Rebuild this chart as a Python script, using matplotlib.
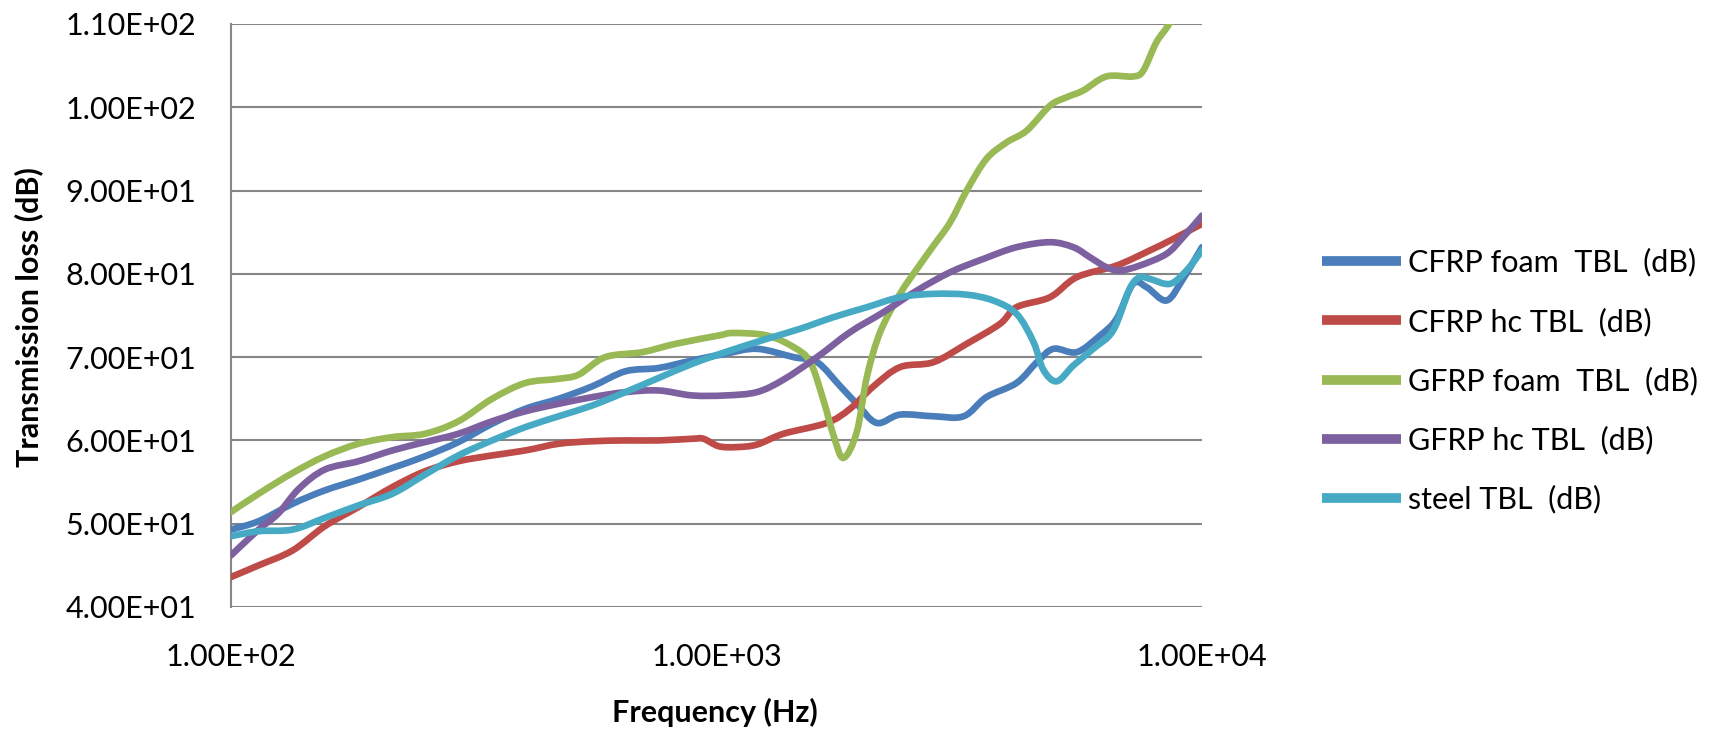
import matplotlib
matplotlib.use("Agg")
import numpy as np
import matplotlib.pyplot as plt
from matplotlib.lines import Line2D
from matplotlib.path import Path
from matplotlib.patches import PathPatch
from matplotlib.ticker import FixedLocator, FuncFormatter, NullLocator

# values (frequency in Hz, transmission loss in dB)
cfrpFoamFreq = [100, 114, 134, 156, 183, 215, 251, 294, 345, 404, 473, 555, 649, 760, 891, 1042,
                1211, 1442, 1611, 1799, 1945, 2138, 2388, 2800, 3228, 3597, 4150, 4571, 4943,
                5521, 6166, 6668, 7211, 7691, 8450, 9141, 10000]
cfrpFoamTL = [49.3, 50.3, 52.4, 54.0, 55.3, 56.7, 58.1, 59.8, 62.0, 63.8, 65.0, 66.5, 68.3, 68.7, 69.6, 70.4,
              71.0, 70.0, 69.4, 66.5, 64.4, 62.1, 63.1, 62.9, 62.9, 65.2, 66.9, 69.4, 71.0,
              70.6, 72.6, 74.6, 78.8, 78.4, 76.8, 79.4, 83.2]

cfrpHcFreq = [100, 114, 134, 156, 183, 215, 251, 294, 345, 404, 473, 555, 649, 760, 891, 940,
              1011, 1100, 1211, 1374, 1687, 1884, 2106, 2388, 2800, 3276, 3837, 4150, 4864,
              5521, 6668, 7803, 8730, 10000]
cfrpHcTL = [43.6, 45.0, 46.8, 49.7, 52.0, 54.4, 56.3, 57.5, 58.2, 58.8, 59.6, 59.9, 60.0, 60.0, 60.2, 60.2,
            59.3, 59.2, 59.5, 60.8, 62.1, 63.8, 66.5, 68.8, 69.4, 71.6, 74.0, 76.0, 77.2,
            79.6, 81.0, 82.8, 84.2, 86.0]

gfrpFoamFreq = [100, 114, 134, 156, 183, 215, 251, 294, 345, 404, 473, 520, 590, 703, 824, 1011,
                1084, 1270, 1442, 1560, 1661, 1742, 1825, 1945, 2042, 2173, 2388, 2588, 2800,
                3030, 3276, 3597, 3963, 4355, 4864, 5260, 5687, 6353, 7211, 7568, 8054, 8590,
                9141]
gfrpFoamTL = [51.4, 53.6, 56.1, 58.1, 59.6, 60.4, 60.8, 62.3, 65.0, 66.9, 67.4, 67.9, 70.0, 70.6, 71.6, 72.6,
              72.9, 72.6, 71.2, 69.4, 64.8, 60.6, 57.9, 61.0, 67.7, 73.0, 77.6, 80.6, 83.4,
              86.2, 90.0, 93.8, 95.8, 97.2, 100.2, 101.2, 102.0, 103.7, 103.7, 104.4, 107.8, 110.2,
              114.0]

gfrpHcFreq = [100, 114, 125, 138, 156, 183, 215, 251, 294, 345, 404, 473, 555, 649, 760, 891, 1042,
              1211, 1374, 1611, 1884, 2208, 2588, 3030, 3548, 4150, 4864, 5433, 5875, 6353,
              6776, 7447, 8450, 9141, 10000]
gfrpHcTL = [46.2, 49.3, 51.2, 54.2, 56.5, 57.5, 58.8, 59.8, 60.8, 62.3, 63.5, 64.4, 65.2, 65.8, 66.0, 65.4, 65.4,
            65.8, 67.3, 70.0, 73.0, 75.4, 78.0, 80.2, 81.8, 83.2, 83.8, 83.2, 82.0, 80.8,
            80.4, 81.0, 82.4, 84.4, 87.0]

steelFreq = [100, 114, 134, 156, 183, 215, 251, 294, 345, 404, 473, 555, 649, 760, 891, 1042,
             1270, 1486, 1742, 2042, 2388, 2800, 3276, 3715, 4150, 4498, 4710, 5020, 5433,
             5970, 6561, 7096, 7447, 7803, 8590, 9290, 10000]
steelTL = [48.5, 49.1, 49.3, 50.7, 52.2, 53.6, 55.9, 58.2, 60.0, 61.6, 62.9, 64.2, 65.8, 67.5, 69.2, 70.6,
           72.2, 73.4, 74.8, 76.0, 77.2, 77.6, 77.5, 76.8, 75.2, 71.8, 68.5, 67.1, 69.0,
           71.0, 73.2, 78.2, 79.6, 79.4, 78.8, 80.4, 82.8]

seriesNames = ["CFRP foam  TBL  (dB)", "CFRP hc TBL  (dB)", "GFRP foam  TBL  (dB)",
               "GFRP hc TBL  (dB)", "steel TBL  (dB)"]
seriesColors = ["#4A7EBB", "#BE4B48", "#98B954", "#7D60A0", "#46AAC5"]

yTicks = [40, 50, 60, 70, 80, 90, 100, 110]
xTicks = [100, 1000, 10000]

FONT = "Lato"
SIZE = 22
GRID = "#868686"
LINE_WIDTH = 4.8


def smoothPath(freq, values):
    """Excel-like smoothed line: Catmull-Rom through the points, built in log-frequency space."""
    x = np.log10(freq)
    y = np.asarray(values, dtype=float)
    px = np.concatenate([[x[0]], x, [x[-1]]])
    py = np.concatenate([[y[0]], y, [y[-1]]])
    verts = [(x[0], y[0])]
    codes = [Path.MOVETO]
    for i in range(1, len(px) - 2):
        c1 = (px[i] + (px[i + 1] - px[i - 1]) / 6, py[i] + (py[i + 1] - py[i - 1]) / 6)
        c2 = (px[i + 1] - (px[i + 2] - px[i]) / 6, py[i + 1] - (py[i + 2] - py[i]) / 6)
        verts += [c1, c2, (px[i + 1], py[i + 1])]
        codes += [Path.CURVE4] * 3
    verts = [(10 ** vx, vy) for vx, vy in verts]
    return Path(verts, codes)


fig = plt.figure(figsize=(17.23, 7.29), dpi=100)
ax = fig.add_axes([231 / 1723, 1 - 607 / 729, (1202 - 231) / 1723, (607 - 24) / 729])

allSeries = [(cfrpFoamFreq, cfrpFoamTL), (cfrpHcFreq, cfrpHcTL), (gfrpFoamFreq, gfrpFoamTL),
             (gfrpHcFreq, gfrpHcTL), (steelFreq, steelTL)]
handles = []
for (freq, tl), name, color in zip(allSeries, seriesNames, seriesColors):
    patch = PathPatch(smoothPath(freq, tl), facecolor="none", edgecolor=color, lw=LINE_WIDTH,
                      joinstyle="round", capstyle="round", zorder=3)
    ax.add_patch(patch)
    handles.append(Line2D([], [], color=color, lw=7, solid_capstyle="butt", label=name))

ax.set_xscale("log")
ax.set_xlim(100, 10000)
ax.set_ylim(40, 110)
ax.xaxis.set_major_locator(FixedLocator(xTicks))
ax.xaxis.set_minor_locator(NullLocator())
ax.yaxis.set_major_locator(FixedLocator(yTicks))
sciFormat = FuncFormatter(lambda v, pos: "%.2E" % v)
ax.xaxis.set_major_formatter(sciFormat)
ax.yaxis.set_major_formatter(sciFormat)

ax.grid(axis="y", color=GRID, lw=1.5, zorder=0)
ax.set_axisbelow(True)
for side in ["top", "right", "bottom"]:
    ax.spines[side].set_visible(False)
ax.spines["left"].set_color(GRID)
ax.spines["left"].set_linewidth(1.5)
ax.tick_params(axis="both", length=0, labelsize=SIZE, labelcolor="black")
ax.tick_params(axis="y", pad=25)
ax.tick_params(axis="x", pad=26)
for label in ax.get_xticklabels() + ax.get_yticklabels():
    label.set_fontfamily(FONT)

fig.text(715 / 1723, 1 - 722 / 729, "Frequency (Hz)", ha="center", va="baseline",
         fontsize=SIZE, fontweight="bold", family=FONT)
fig.text(29 / 1723, 1 - 317 / 729, "Transmission loss (dB)", ha="center", va="center",
         rotation=90, fontsize=SIZE, fontweight="bold", family=FONT)

fig.legend(handles=handles, loc="center left", bbox_to_anchor=(1322 / 1723, 1 - 381 / 729),
           frameon=False, prop={"family": FONT, "size": SIZE},
           handlelength=2.6, handletextpad=0.2, labelspacing=1.0,
           borderpad=0, borderaxespad=0)

fig.savefig("out.png", dpi=100)
